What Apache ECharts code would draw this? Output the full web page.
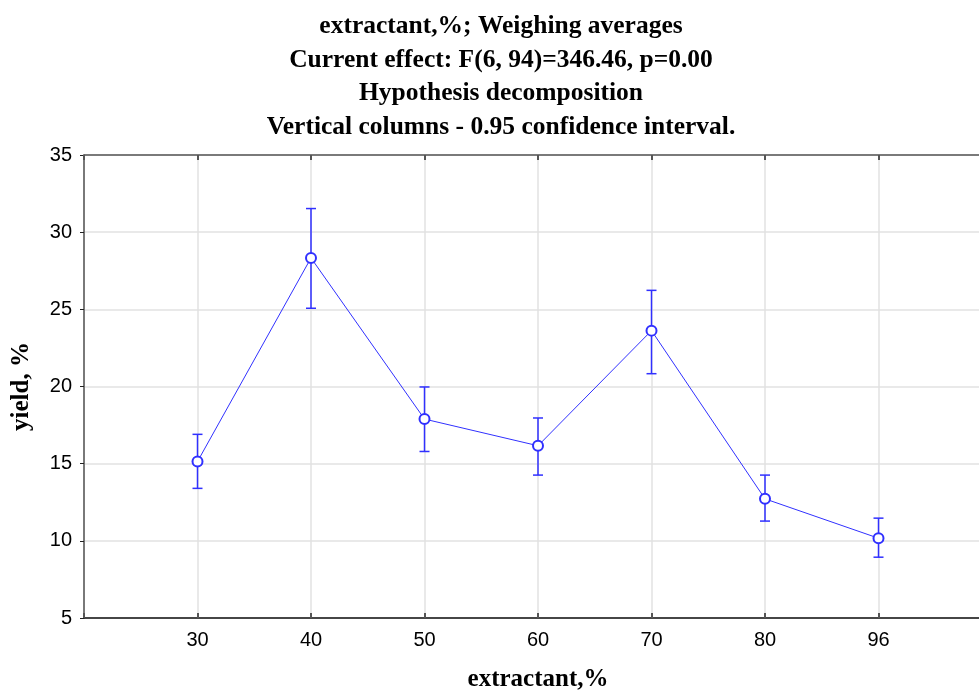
<!DOCTYPE html>
<html>
<head>
<meta charset="utf-8">
<script src="https://cdn.jsdelivr.net/npm/echarts@6/dist/echarts.min.js"></script>
<style>
  html, body { margin: 0; padding: 0; background: #fff; }
  #main { width: 979px; height: 690px; }
</style>
</head>
<body>
<div id="main"></div>
<script>
// data
const categories = ['30', '40', '50', '60', '70', '80', '96'];
const means = [15.14, 28.33, 17.89, 16.16, 23.62, 12.72, 10.17];
const lower = [13.4, 25.07, 15.79, 14.26, 20.83, 11.28, 8.94];
const upper = [16.9, 31.53, 19.97, 17.96, 26.23, 14.26, 11.47];
const yTicks = [5, 10, 15, 20, 25, 30, 35];

const titleLines = [
    'extractant,%; Weighing averages',
    'Current effect: F(6, 94)=346.46, p=0.00',
    'Hypothesis decomposition',
    'Vertical columns - 0.95 confidence interval.'
];

const blue = '#3030ff';
const serif = '"Liberation Serif", "Times New Roman", serif';
const sans = '"Liberation Sans", Arial, sans-serif';

// pad one empty slot on each side so the first/last points sit a full step in
const xData = [''].concat(categories, ['']);
const lineData = ['-'].concat(means, ['-']);
const barData = categories.map((c, i) => [i + 1, lower[i], upper[i]]);

var chart = echarts.init(document.getElementById('main'));
chart.setOption({
    animation: false,
    title: {
        text: titleLines.join('\n'),
        left: 496,
        top: 5,
        textAlign: 'center',
        textStyle: {
            fontFamily: serif,
            fontWeight: 'bold',
            fontSize: 25.5,
            lineHeight: 33.5,
            color: '#000'
        }
    },
    grid: {
        left: 84,
        top: 155,
        width: 908,
        height: 463,
        outerBoundsMode: 'none'
    },
    xAxis: [
        {
            type: 'category',
            data: xData,
            boundaryGap: false,
            position: 'bottom',
            name: 'extractant,%',
            nameLocation: 'middle',
            nameGap: 49,
            nameTextStyle: {
                fontFamily: serif,
                fontWeight: 'bold',
                fontSize: 25,
                color: '#000'
            },
            axisLine: { lineStyle: { color: '#111', width: 1.5 } },
            axisTick: { inside: true, length: 5, lineStyle: { color: '#555', width: 2 } },
            axisLabel: { fontFamily: sans, fontSize: 20, color: '#000', margin: 12 },
            splitLine: { show: true, lineStyle: { color: '#e2e2e2', width: 1.5 } }
        },
        {
            type: 'category',
            data: xData,
            boundaryGap: false,
            position: 'top',
            axisLine: { lineStyle: { color: '#555', width: 1.5 } },
            axisTick: { inside: true, length: 5, lineStyle: { color: '#555', width: 2 } },
            axisLabel: { show: false },
            splitLine: { show: false }
        }
    ],
    yAxis: {
        type: 'value',
        min: yTicks[0],
        max: yTicks[yTicks.length - 1],
        interval: 5,
        name: 'yield, %',
        nameLocation: 'middle',
        nameGap: 50,
        nameTextStyle: {
            fontFamily: serif,
            fontWeight: 'bold',
            fontSize: 25,
            color: '#000'
        },
        axisLine: { show: true, lineStyle: { color: '#555', width: 1.5 } },
        axisTick: { show: true, length: 4, lineStyle: { color: '#222' } },
        axisLabel: { fontFamily: sans, fontSize: 20, color: '#000', margin: 12 },
        splitLine: { show: true, lineStyle: { color: '#e2e2e2', width: 1.5 } }
    },
    series: [
        {
            type: 'custom',
            data: barData,
            z: 3,
            renderItem: function (params, api) {
                var x = api.value(0);
                var lo = api.coord([x, api.value(1)]);
                var hi = api.coord([x, api.value(2)]);
                var half = 5;
                var st = { stroke: blue, lineWidth: 1.5 };
                return {
                    type: 'group',
                    children: [
                        { type: 'line', shape: { x1: hi[0], y1: hi[1], x2: lo[0], y2: lo[1] }, style: st },
                        { type: 'line', shape: { x1: hi[0] - half, y1: hi[1], x2: hi[0] + half, y2: hi[1] }, style: st },
                        { type: 'line', shape: { x1: lo[0] - half, y1: lo[1], x2: lo[0] + half, y2: lo[1] }, style: st }
                    ]
                };
            }
        },
        {
            type: 'line',
            data: lineData,
            z: 4,
            symbol: 'emptyCircle',
            symbolSize: 10,
            lineStyle: { color: blue, width: 1 },
            itemStyle: { color: blue, borderWidth: 1.2 }
        }
    ]
});
</script>
</body>
</html>
